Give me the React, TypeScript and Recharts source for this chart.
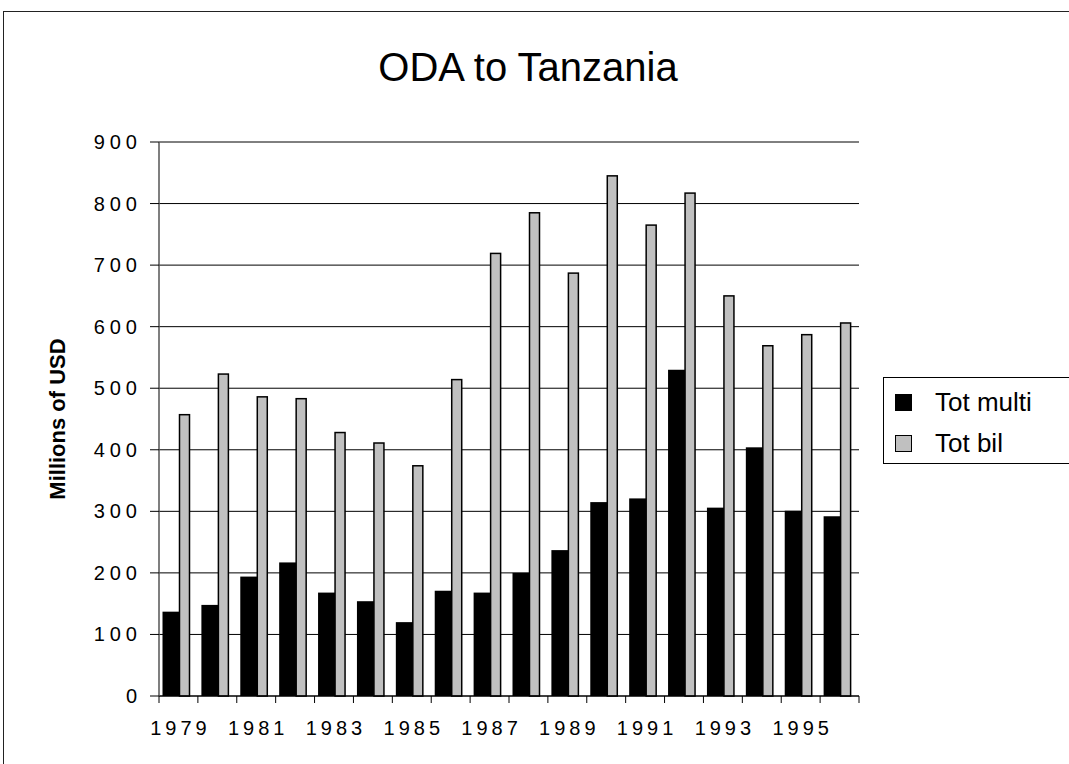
import React from 'react';
import { BarChart, Bar, XAxis, YAxis, CartesianGrid, Legend } from 'recharts';

const years = ['1979', '1980', '1981', '1982', '1983', '1984', '1985', '1986', '1987', '1988', '1989', '1990', '1991', '1992', '1993', '1994', '1995', '1996'];
const totMulti = [137, 148, 194, 217, 168, 154, 120, 171, 168, 200, 237, 315, 321, 530, 306, 404, 301, 292];
const totBil = [457, 523, 486, 483, 428, 411, 374, 514, 719, 785, 687, 845, 765, 817, 650, 569, 587, 606];
const yTicks = [0, 100, 200, 300, 400, 500, 600, 700, 800, 900];
const seriesNames = ['Tot multi', 'Tot bil'];

const data = years.map((year, i) => ({ year, multi: totMulti[i], bil: totBil[i] }));

const FONT = 'Arial, "Liberation Sans", sans-serif';
const W = 1069;
const H = 764;
const MARGIN = { top: 142, right: 210, bottom: 0, left: 0 };
const X_AXIS_H = 68;
const Y_AXIS_W = 159;
const BAND = (W - MARGIN.right - Y_AXIS_W) / years.length;

const XTick = (props: any) => {
    const { x, y, payload, index } = props;
    const half = BAND / 2;
    const last = index === years.length - 1;
    return (
        <g>
            <line x1={x - half} x2={x - half} y1={y} y2={y + 7} stroke="#000" strokeWidth={1} />
            {last && <line x1={x + half} x2={x + half} y1={y} y2={y + 7} stroke="#000" strokeWidth={1} />}
            {index % 2 === 0 && (
                <text x={x + 2} y={y + 39} textAnchor="middle" fontSize={20} fontFamily={FONT} fill="#000" style={{ letterSpacing: '4px' }}>
                    {payload.value}
                </text>
            )}
        </g>
    );
};

const YTick = (props: any) => {
    const { x, y, payload } = props;
    return (
        <text x={x + 5} y={y + 7} textAnchor="end" fontSize={20} fontFamily={FONT} fill="#000" style={{ letterSpacing: '5px' }}>
            {payload.value}
        </text>
    );
};

// bars in the original sit a bit left of the category centre
const shifted = (fill: string, stroke?: string) => (p: any) => (
    <rect
        x={p.x - 2.5}
        y={p.y}
        width={p.width}
        height={p.height}
        fill={fill}
        stroke={stroke || 'none'}
        strokeWidth={stroke ? 1.5 : 0}
    />
);

const LegendBox = (props: any) => {
    const items = [...(props.payload || [])].sort(
        (a: any, b: any) => seriesNames.indexOf(a.value) - seriesNames.indexOf(b.value)
    );
    return (
        <div style={{ border: '1px solid #000', background: '#fff', height: 87, boxSizing: 'border-box', paddingTop: 4 }}>
            {items.map((entry: any) => (
                <div key={entry.value} style={{ display: 'flex', alignItems: 'center', height: 41, paddingLeft: 11 }}>
                    <span style={{ width: 17, height: 17, background: entry.color, border: '1.5px solid #000', boxSizing: 'border-box', display: 'inline-block' }} />
                    <span style={{ marginLeft: 23, fontSize: 26, fontFamily: FONT, color: '#000' }}>{entry.value}</span>
                </div>
            ))}
        </div>
    );
};

export default function App() {
    return (
        <div style={{ position: 'absolute', left: 0, top: 0, width: W, height: H, overflow: 'hidden', background: '#fff' }}>
            <div style={{ position: 'absolute', left: 3, top: 11, width: 1200, height: 900, border: '1.5px solid #222' }} />
            <div style={{ position: 'absolute', left: 0, top: 45, width: 1056, textAlign: 'center', fontFamily: FONT, fontSize: 40, color: '#000' }}>
                ODA to Tanzania
            </div>
            <div style={{ position: 'absolute', left: 0, top: 0 }}>
                <BarChart width={W} height={H} data={data} margin={MARGIN} barGap={-1} barCategoryGap={0}>
                    <CartesianGrid vertical={false} stroke="#000" strokeWidth={1} />
                    <XAxis dataKey="year" interval={0} tickLine={false} tickSize={0} tickMargin={0} height={X_AXIS_H} axisLine={{ stroke: '#000' }} tick={<XTick />} />
                    <XAxis xAxisId="top" orientation="top" dataKey="year" height={0} tick={false} tickLine={false} axisLine={{ stroke: '#888', strokeWidth: 2 }} />
                    <YAxis width={Y_AXIS_W} domain={[0, 900]} ticks={yTicks} interval={0} tickSize={9} tickMargin={13} axisLine={{ stroke: '#555', strokeWidth: 1.5 }} tickLine={{ stroke: '#000' }} tick={<YTick />}
                        label={{ value: 'Millions of USD', angle: -90, position: 'insideLeft', offset: 57, style: { textAnchor: 'middle', fontWeight: 'bold', fontSize: 22, fontFamily: FONT, fill: '#000' } }} />
                    <YAxis yAxisId="right" orientation="right" width={0} tick={false} tickLine={false} axisLine={{ stroke: '#888', strokeWidth: 2 }} />
                    <Legend layout="horizontal" verticalAlign="middle" align="center" content={<LegendBox />} wrapperStyle={{ left: 883, top: 377, width: 230, height: 87 }} />
                    <Bar dataKey="multi" name="Tot multi" fill="#000" barSize={18} isAnimationActive={false} shape={shifted('#000')} />
                    <Bar dataKey="bil" name="Tot bil" fill="#c0c0c0" barSize={10} isAnimationActive={false} shape={shifted('#c0c0c0', '#000')} />
                </BarChart>
            </div>
        </div>
    );
}
